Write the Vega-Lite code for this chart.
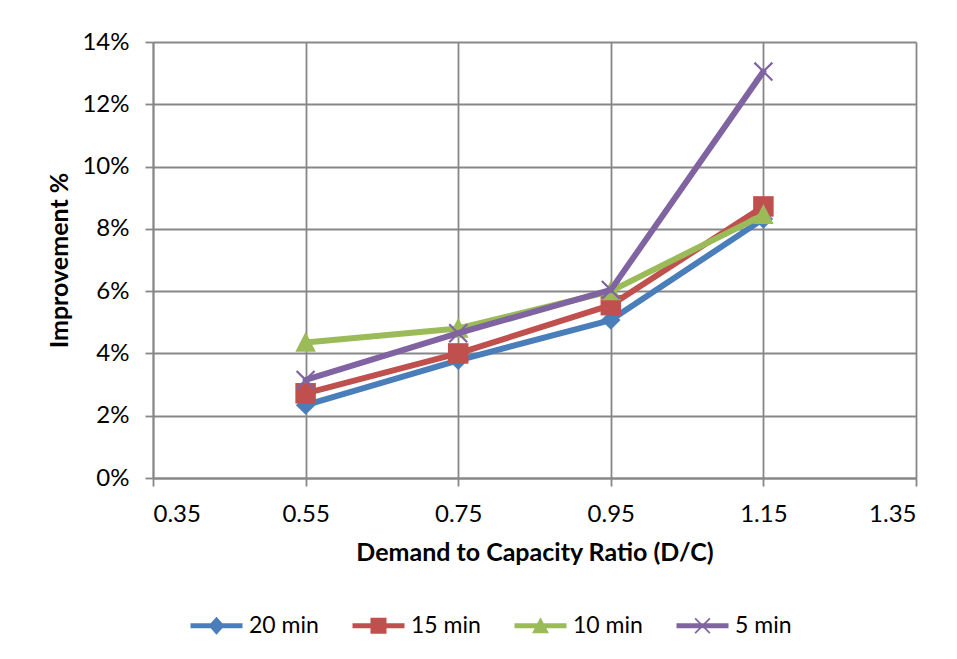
{
  "$schema": "https://vega.github.io/schema/vega-lite/v6.json",
  "width": 763,
  "height": 436,
  "autosize": "none",
  "padding": {"left": 153, "top": 42, "right": 41, "bottom": 181},
  "background": "white",
  "config": {
    "font": "Lato",
    "view": {"stroke": null},
    "axis": {
      "gridColor": "#878787",
      "gridWidth": 1.8,
      "domainColor": "#878787",
      "domainWidth": 1.8,
      "tickColor": "#878787",
      "tickWidth": 1.8,
      "tickSize": 8,
      "labelFont": "Lato",
      "labelFontSize": 24,
      "labelColor": "#000000",
      "titleFont": "Lato",
      "titleFontSize": 25,
      "titleFontWeight": "bold",
      "titleColor": "#000000"
    },
    "legend": {
      "title": null,
      "orient": "none",
      "legendX": 52,
      "legendY": 572,
      "direction": "horizontal",
      "symbolSize": 400,
      "symbolStrokeWidth": 0,
      "symbolOpacity": 1,
      "labelFont": "Lato",
      "labelFontSize": 23,
      "labelColor": "#000000",
      "labelOffset": 21,
      "columnPadding": 33
    }
  },
  "data": {
    "values": [
      {"dc": 0.55, "imp": 0.0234, "series": "20 min"},
      {"dc": 0.75, "imp": 0.0378, "series": "20 min"},
      {"dc": 0.95, "imp": 0.0507, "series": "20 min"},
      {"dc": 1.15, "imp": 0.0832, "series": "20 min"},
      {"dc": 0.55, "imp": 0.0272, "series": "15 min"},
      {"dc": 0.75, "imp": 0.0400, "series": "15 min"},
      {"dc": 0.95, "imp": 0.0555, "series": "15 min"},
      {"dc": 1.15, "imp": 0.0872, "series": "15 min"},
      {"dc": 0.55, "imp": 0.0435, "series": "10 min"},
      {"dc": 0.75, "imp": 0.0480, "series": "10 min"},
      {"dc": 0.95, "imp": 0.0600, "series": "10 min"},
      {"dc": 1.15, "imp": 0.0845, "series": "10 min"},
      {"dc": 0.55, "imp": 0.0315, "series": "5 min"},
      {"dc": 0.75, "imp": 0.0465, "series": "5 min"},
      {"dc": 0.95, "imp": 0.0604, "series": "5 min"},
      {"dc": 1.15, "imp": 0.1305, "series": "5 min"}
    ]
  },
  "encoding": {
    "x": {
      "field": "dc",
      "type": "quantitative",
      "scale": {"domain": [0.35, 1.35], "nice": false, "zero": false},
      "axis": {
        "title": "Demand to Capacity Ratio (D/C)",
        "values": [0.35, 0.55, 0.75, 0.95, 1.15, 1.35],
        "format": ".2f",
        "labelPadding": 16,
        "titlePadding": 14,
        "grid": true
      }
    },
    "y": {
      "field": "imp",
      "type": "quantitative",
      "scale": {"domain": [0, 0.14], "nice": false},
      "axis": {
        "title": "Improvement %",
        "values": [0, 0.02, 0.04, 0.06, 0.08, 0.1, 0.12, 0.14],
        "format": ".0%",
        "labelPadding": 16,
        "titlePadding": 9,
        "grid": true
      }
    },
    "color": {
      "field": "series",
      "type": "nominal",
      "sort": ["20 min", "15 min", "10 min", "5 min"],
      "scale": {
        "domain": ["20 min", "15 min", "10 min", "5 min"],
        "range": ["#4A7EBB", "#C0504D", "#9BBB59", "#8064A2"]
      },
      "legend": {"title": null}
    }
  },
  "layer": [
    {
      "transform": [{"filter": "datum.series === '20 min'"}],
      "mark": {"type": "line", "strokeWidth": 6, "strokeCap": "round", "strokeJoin": "round"},
      "encoding": {}
    },
    {
      "transform": [{"filter": "datum.series === '20 min'"}],
      "mark": {"type": "point", "filled": true, "opacity": 1, "size": 420, "shape": "M0,-0.95L0.95,0L0,0.95L-0.95,0Z"},
      "encoding": {}
    },
    {
      "transform": [{"filter": "datum.series === '15 min'"}],
      "mark": {"type": "line", "strokeWidth": 6, "strokeCap": "round", "strokeJoin": "round"},
      "encoding": {}
    },
    {
      "transform": [{"filter": "datum.series === '15 min'"}],
      "mark": {"type": "point", "filled": true, "opacity": 1, "size": 420, "shape": "M-1,-1H1V1H-1Z"},
      "encoding": {}
    },
    {
      "transform": [{"filter": "datum.series === '10 min'"}],
      "mark": {"type": "line", "strokeWidth": 6, "strokeCap": "round", "strokeJoin": "round"},
      "encoding": {}
    },
    {
      "transform": [{"filter": "datum.series === '10 min'"}],
      "mark": {"type": "point", "filled": true, "opacity": 1, "size": 420, "shape": "M0,-1.05L1,0.9H-1Z"},
      "encoding": {}
    },
    {
      "transform": [{"filter": "datum.series === '5 min'"}],
      "mark": {"type": "line", "strokeWidth": 6, "strokeCap": "round", "strokeJoin": "round"},
      "encoding": {}
    },
    {
      "transform": [{"filter": "datum.series === '5 min'"}],
      "mark": {"type": "point", "filled": true, "opacity": 1, "size": 420, "shape": "M-0.95,-0.8L-0.8,-0.95L0,-0.15L0.8,-0.95L0.95,-0.8L0.15,0L0.95,0.8L0.8,0.95L0,0.15L-0.8,0.95L-0.95,0.8L-0.15,0Z"},
      "encoding": {}
    },
    {
      "transform": [{"filter": "datum.imp < 0"}],
      "mark": {"type": "point", "filled": true, "opacity": 1},
      "encoding": {
        "shape": {
          "field": "series",
          "type": "nominal",
          "sort": ["20 min", "15 min", "10 min", "5 min"],
          "scale": {
            "domain": ["20 min", "15 min", "10 min", "5 min"],
            "range": [
              "M-2.6,-0.24H2.6V0.24H-2.6Z M0,-0.9L0.8,0L0,0.9L-0.8,0Z",
              "M-2.6,-0.24H2.6V0.24H-2.6Z M-0.8,-0.8H0.8V0.8H-0.8Z",
              "M-2.6,-0.24H2.6V0.24H-2.6Z M0,-0.85L0.85,0.75H-0.85Z",
              "M-2.6,-0.24H2.6V0.24H-2.6Z M-0.8,-0.68L-0.68,-0.8L0,-0.12L0.68,-0.8L0.8,-0.68L0.12,0L0.8,0.68L0.68,0.8L0,0.12L-0.68,0.8L-0.8,0.68L-0.12,0Z"
            ]
          },
          "legend": {"title": null}
        }
      }
    }
  ]
}
